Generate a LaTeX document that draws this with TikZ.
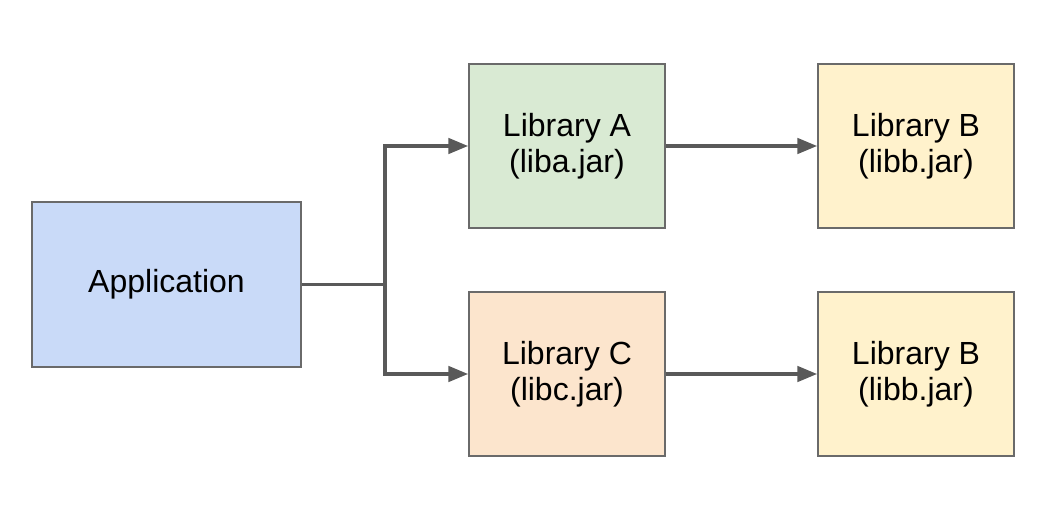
\documentclass[tikz,border=0pt]{standalone}
\usepackage{fontspec}
\setmainfont{Liberation Sans}
\usepackage{tikz}
\usetikzlibrary{arrows.meta}

\definecolor{appblue}{HTML}{C9DAF8}
\definecolor{libgreen}{HTML}{D9EAD3}
\definecolor{liborange}{HTML}{FCE5CD}
\definecolor{libyellow}{HTML}{FFF2CC}
\definecolor{edgegrey}{HTML}{595959}

\begin{document}
\begin{tikzpicture}[x=0.75pt,y=0.75pt,
    box/.style={draw=edgegrey!90,line width=1.1pt,align=center,inner sep=0pt,
      font=\fontsize{24}{27}\selectfont},
    libbox/.style={box,minimum width=147pt,minimum height=123pt},
    link/.style={draw=edgegrey,line width=2.8pt},
    linkto/.style={link,-{Triangle[length=15pt,width=11.5pt]}}]
  \useasboundingbox (0,0) rectangle (1058,504);
  \node[box,fill=appblue,minimum width=201.75pt,minimum height=123.75pt] (app) at (166.5,219.5) {Application};
  \node[libbox,fill=libgreen] (liba) at (567,358) {Library A\\(liba.jar)};
  \node[libbox,fill=liborange] (libc) at (567,130) {Library C\\(libc.jar)};
  \node[libbox,fill=libyellow] (libbtop) at (916,358) {Library B\\(libb.jar)};
  \node[libbox,fill=libyellow] (libbbot) at (916,130) {Library B\\(libb.jar)};
  \coordinate (split) at (385,219.5);
  \draw[link] (app.east) -- (split);
  \draw[linkto,line join=miter] (split) |- (liba.west);
  \draw[linkto,line join=miter] (split) |- (libc.west);
  \draw[linkto] (liba.east) -- (libbtop.west);
  \draw[linkto] (libc.east) -- (libbbot.west);
\end{tikzpicture}
\end{document}
